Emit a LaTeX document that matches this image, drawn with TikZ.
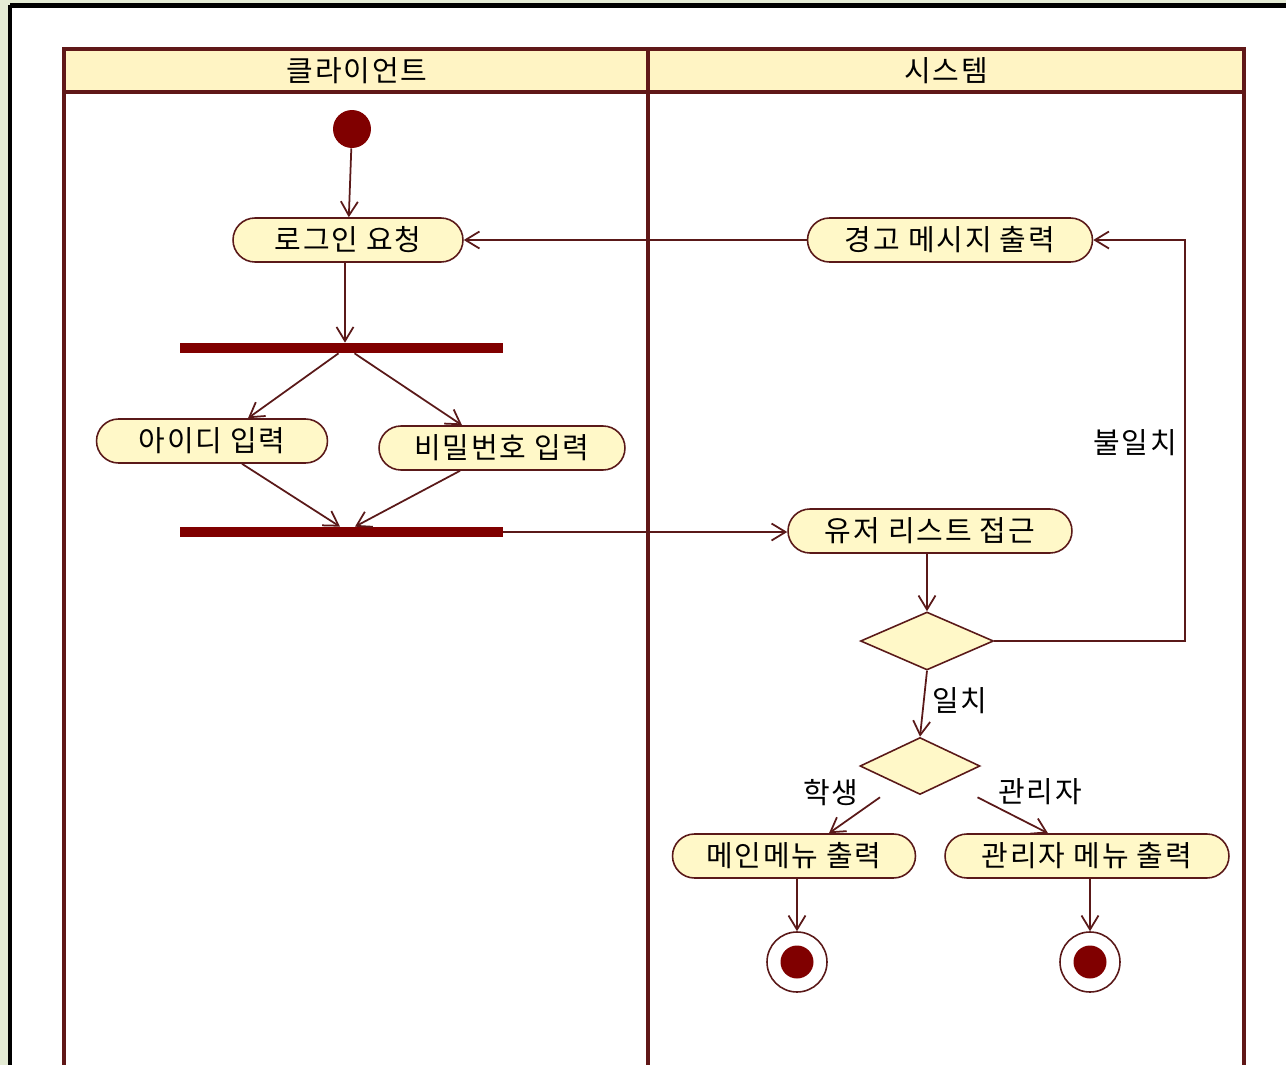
\documentclass[tikz,border=0pt]{standalone}
\usepackage{fontspec}
\setmainfont{Noto Sans CJK KR}[LetterSpace=6]
\usetikzlibrary{arrows.meta,shapes.geometric,shapes.misc,calc}
\definecolor{bggreen}{RGB}{228,235,212}
\definecolor{lane}{RGB}{96,24,24}
\definecolor{hdr}{RGB}{255,244,196}
\definecolor{actfill}{RGB}{255,248,200}
\definecolor{maroon}{RGB}{128,0,0}
\definecolor{wire}{RGB}{90,25,25}
\tikzset{
  txt/.style={font=\fontsize{16.5}{19}\selectfont, text=black},
  act/.style={rounded rectangle, draw=wire, line width=0.9pt, fill=actfill, minimum height=0.88cm, inner sep=0pt, txt},
  bar/.style={rectangle, fill=maroon, draw=none, minimum width=6.46cm, minimum height=0.2cm, inner sep=0pt},
  dec/.style={diamond, draw=wire, line width=0.9pt, fill=actfill, inner sep=0pt},
  startnode/.style={circle, fill=maroon, draw=none, minimum size=0.76cm, inner sep=0pt},
  endnode/.style={circle, draw=wire, line width=0.9pt, fill=white, minimum size=1.2cm, inner sep=0pt,
    path picture={\fill[maroon] (path picture bounding box.center) circle (0.33cm);}},
  arr/.style={draw=wire, line width=1pt, -{Straight Barb[length=0.28cm,width=0.34cm]}},
  lbl/.style={txt, inner sep=1pt},
}
\begin{document}
\begin{tikzpicture}[x=0.02cm, y=-0.02cm]
\useasboundingbox (0,0) rectangle (1286,1065);
% background
\fill[bggreen] (0,0) rectangle (1286,1065);
\fill[white] (10,5) rectangle (1300,1080);
\draw[black, line width=0.1cm] (10,5) -- (1300,5);
\draw[black, line width=0.1cm] (10,5) -- (10,1080);
% swimlanes
\fill[hdr] (64,49) rectangle (1244,92);
\draw[lane, line width=0.075cm] (64,1080) -- (64,49) -- (1244,49) -- (1244,1080);
\draw[lane, line width=0.075cm] (64,92) -- (1244,92);
\draw[lane, line width=0.075cm] (648,49) -- (648,1080);
\node[txt] (laneA) at (357,71) {클라이언트};
\node[txt] (laneB) at (946,71) {시스템};
% nodes
\node[startnode] (start) at (352,129) {};
\node[act, minimum width=4.6cm] (login) at (348,240) {로그인 요청};
\node[bar] (fork) at (341.5,348) {};
\node[act, minimum width=4.62cm] (id) at (212,441) {아이디 입력};
\node[act, minimum width=4.92cm] (pw) at (502,448) {비밀번호 입력};
\node[bar] (join) at (341.5,532) {};
\node[act, minimum width=5.7cm] (warn) at (950,240) {경고 메시지 출력};
\node[act, minimum width=5.68cm] (user) at (930,531) {유저 리스트 접근};
\node[dec, minimum width=2.66cm, minimum height=1.16cm] (d1) at (927,641) {};
\node[dec, minimum width=2.4cm, minimum height=1.14cm] (d2) at (920,766) {};
\node[act, minimum width=4.86cm] (mainm) at (794,856) {메인메뉴 출력};
\node[act, minimum width=5.68cm] (admin) at (1087,856) {관리자 메뉴 출력};
\node[endnode] (end1) at (797,962) {};
\node[endnode] (end2) at (1090,962) {};
\coordinate (loop) at (1185,641);
% labels
\node[lbl] (lmis) at (1135,443) {불일치};
\node[lbl] (lok) at (960,701) {일치};
\node[lbl] (lstu) at (831,793) {학생};
\node[lbl] (ladm) at (1040,792) {관리자};
% connectors
\draw[arr] (start) -- (login);
\draw[arr] ([xshift=-0.06cm]login.south) -- ([xshift=-0.06cm]login.south |- fork.north);
\draw[arr] ([xshift=-0.06cm]fork.south) -- ([xshift=0.72cm]id.north);
\draw[arr] ([xshift=0.26cm]fork.south) -- ([xshift=-0.8cm]pw.north);
\draw[arr] ([xshift=0.6cm]id.south) -- ([xshift=-0.03cm]join.north);
\draw[arr] ([xshift=-0.84cm]pw.south) -- ([xshift=0.27cm]join.north);
\draw[arr] (join.east) -- (join.east -| user.west);
\draw[arr] (user.south -| d1.north) -- (d1.north);
\draw[arr] (d1.east) -- (loop) |- (warn.east);
\draw[arr] (warn.west) -- (login.east);
\draw[arr] (d1.south) -- (d2.north);
\draw[arr] ([xshift=-0.8cm,yshift=-0.04cm]d2.south) -- ([xshift=0.7cm]mainm.north);
\draw[arr] ([xshift=1.15cm,yshift=-0.04cm]d2.south) -- ([xshift=-0.78cm]admin.north);
\draw[arr] (mainm.south -| end1.north) -- (end1.north);
\draw[arr] (admin.south -| end2.north) -- (end2.north);
\end{tikzpicture}
\end{document}
